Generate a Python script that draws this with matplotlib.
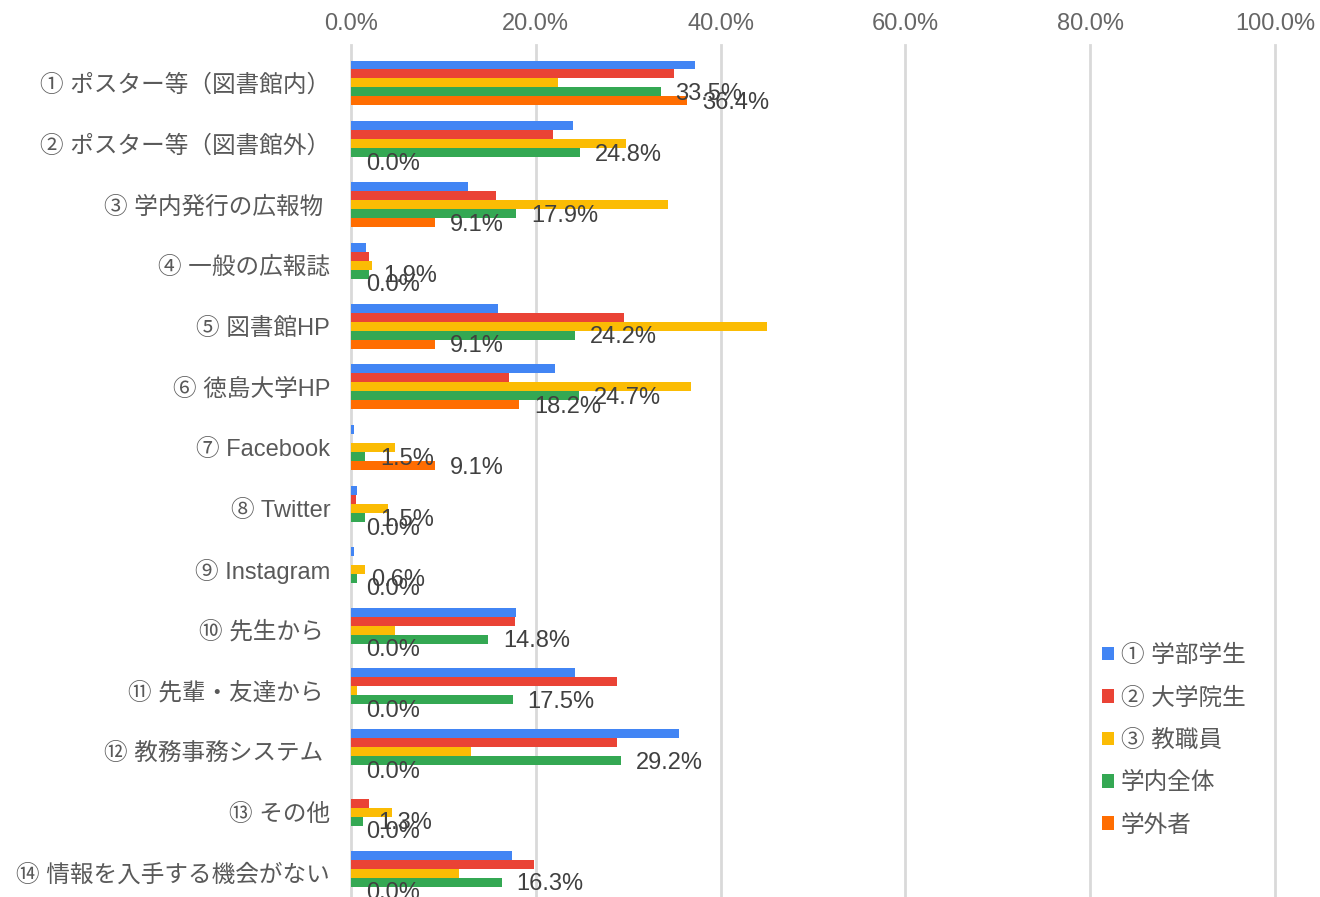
import numpy as np
import matplotlib
matplotlib.use("Agg")
import matplotlib.pyplot as plt
from matplotlib.patches import Patch

plt.rcParams['font.family'] = ['Liberation Sans', 'Noto Sans CJK JP']

categories = [
    "① ポスター等（図書館内）",
    "② ポスター等（図書館外）",
    "③ 学内発行の広報物 ",
    "④ 一般の広報誌",
    "⑤ 図書館HP",
    "⑥ 徳島大学HP",
    "⑦ Facebook",
    "⑧ Twitter",
    "⑨ Instagram",
    "⑩ 先生から ",
    "⑪ 先輩・友達から ",
    "⑫ 教務事務システム ",
    "⑬ その他",
    "⑭ 情報を入手する機会がない",
]

series_names = ["① 学部学生", "② 大学院生", "③ 教職員", "学内全体", "学外者"]

# percentages per respondent group
undergrad = [37.2, 24.0, 12.7, 1.6, 15.9, 22.1, 0.3, 0.6, 0.3, 17.9, 24.2, 35.5, 0.0, 17.4]
graduate = [35.0, 21.9, 15.7, 2.0, 29.5, 17.1, 0.0, 0.5, 0.0, 17.8, 28.8, 28.8, 2.0, 19.8]
staff = [22.4, 29.8, 34.3, 2.3, 45.0, 36.8, 4.8, 4.0, 1.5, 4.8, 0.7, 13.0, 4.4, 11.7]
campus_all = [33.5, 24.8, 17.9, 1.9, 24.2, 24.7, 1.5, 1.5, 0.6, 14.8, 17.5, 29.2, 1.3, 16.3]
outside = [36.4, 0.0, 9.1, 0.0, 9.1, 18.2, 9.1, 0.0, 0.0, 0.0, 0.0, 0.0, 0.0, 0.0]

series = [undergrad, graduate, staff, campus_all, outside]
colors = ["#4285F4", "#EA4335", "#FBBC04", "#34A853", "#FF6D01"]
labelled = [False, False, False, True, True]

W, H = 1320, 897
fig = plt.figure(figsize=(W / 100, H / 100), dpi=100)
ax = fig.add_axes([351 / W, 0, 924 / W, 1 - 45 / H])

y = np.arange(len(categories))
bar_h = 0.148
for k, (vals, col, lab) in enumerate(zip(series, colors, labelled)):
    pos = y + (k - 2) * bar_h
    v = np.array(vals) / 100
    ax.barh(pos, v, height=bar_h, color=col, edgecolor="none", zorder=3)
    if lab:
        for p, val in zip(pos, vals):
            ax.annotate(f"{val:.1f}%", xy=(val / 100, p), xytext=(15, -2),
                        textcoords="offset pixels", ha="left", va="center",
                        fontsize=17, color="#404040", zorder=5,
                        annotation_clip=False)

ax.set_xlim(0, 1.0)
ax.set_ylim(13.39, -0.625)
ax.set_xticks(np.linspace(0, 1, 6))
ax.set_xticklabels([f"{t:.1f}%" for t in np.linspace(0, 100, 6)])
ax.xaxis.tick_top()
ax.tick_params(axis="x", length=0, pad=7, labelsize=17, labelcolor="#666666")
ax.set_yticks(y)
ax.set_yticklabels(categories)
ax.tick_params(axis="y", length=0, pad=15, labelsize=17, labelcolor="#595959")
ax.grid(axis="x", color="#d9d9d9", linewidth=2, zorder=0)
for gl in ax.get_xgridlines():
    gl.set_clip_on(False)
for s in ax.spines.values():
    s.set_visible(False)

handles = [Patch(facecolor=c, edgecolor="none") for c in colors]
fig.legend(handles, series_names, loc="upper left",
           bbox_to_anchor=(1102 / W, 1 - 645 / H), frameon=False,
           fontsize=17, labelcolor="#595959", handlelength=0.5, handleheight=0.5,
           handletextpad=0.3, labelspacing=0.86, borderpad=0, borderaxespad=0)

fig.savefig("out.png", dpi=100)
